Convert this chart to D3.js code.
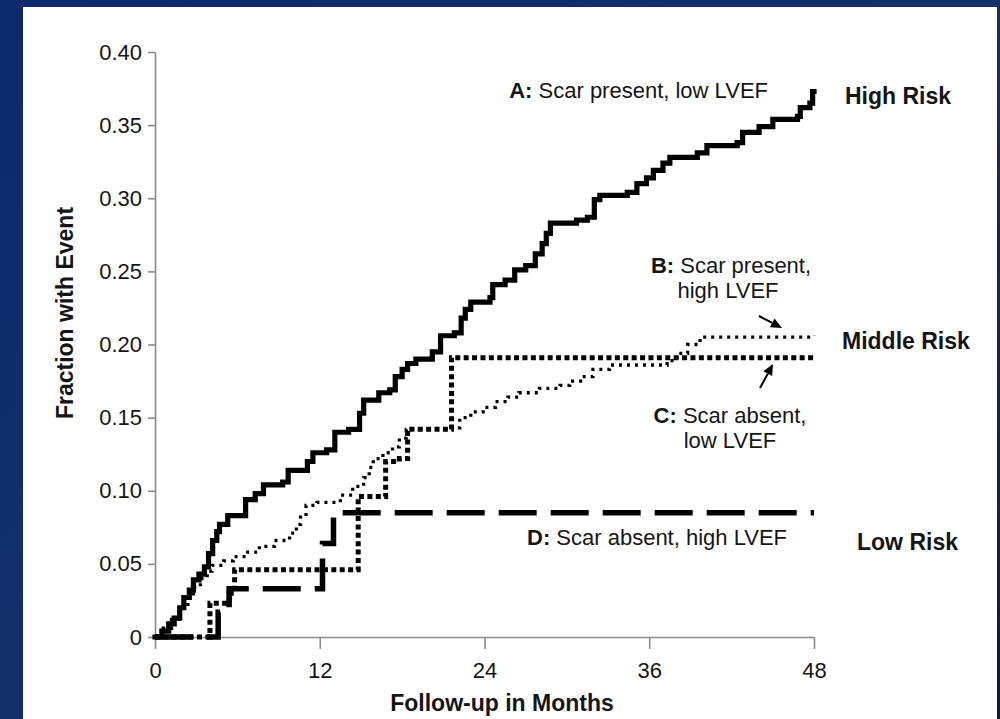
<!DOCTYPE html>
<html>
<head>
<meta charset="utf-8">
<script src="https://cdn.jsdelivr.net/npm/d3@7"></script>
<style>
  html, body { margin: 0; padding: 0; background: #0c2563; }
  svg { display: block; }
  text { font-family: "Liberation Sans", Arial, sans-serif; fill: #151515; }
</style>
</head>
<body>
<svg id="chart" width="1000" height="719"></svg>
<script>
// Cumulative event fraction by follow-up month (step changes: [month, fraction])
const seriesA = [[0,0],[0.5,0.004],[1,0.009],[1.4,0.013],[1.8,0.02],[2.1,0.027],[2.5,0.032],[2.8,0.039],[3.2,0.043],[3.6,0.048],[3.9,0.057],[4.2,0.066],[4.5,0.072],[4.7,0.077],[5.3,0.083],[6.6,0.094],[7.3,0.098],[7.9,0.104],[9.3,0.106],[9.7,0.114],[11.1,0.12],[11.5,0.126],[12.5,0.128],[13.1,0.14],[14.1,0.142],[14.9,0.153],[15.2,0.162],[16.3,0.167],[17.1,0.169],[17.5,0.178],[18.0,0.183],[18.4,0.187],[19.0,0.19],[20.2,0.195],[20.8,0.206],[21.8,0.208],[22.3,0.218],[22.6,0.224],[23.0,0.229],[24.4,0.232],[24.6,0.241],[25.5,0.244],[26.2,0.251],[27.0,0.254],[27.7,0.262],[28.2,0.269],[28.5,0.276],[28.8,0.283],[30.7,0.285],[31.5,0.287],[32.0,0.299],[32.4,0.302],[34.4,0.304],[35.1,0.31],[35.8,0.314],[36.3,0.319],[37.0,0.324],[37.5,0.328],[39.5,0.331],[40.2,0.336],[42.4,0.338],[42.8,0.345],[44.0,0.349],[45.0,0.354],[46.8,0.356],[47.0,0.362],[47.7,0.365],[47.9,0.373],[48,0.373]];
const seriesB = [[0,0],[0.6,0.006],[1.2,0.012],[1.8,0.02],[2.4,0.027],[2.8,0.034],[3.3,0.04],[3.8,0.045],[4.15,0.049],[5.0,0.052],[5.7,0.055],[6.6,0.058],[7.6,0.062],[8.7,0.066],[9.8,0.071],[10.3,0.077],[10.6,0.082],[11.0,0.09],[11.8,0.092],[13.5,0.097],[14.4,0.103],[15.2,0.109],[15.6,0.116],[15.9,0.122],[16.6,0.126],[17.3,0.13],[17.8,0.136],[18.3,0.142],[21.6,0.143],[22.2,0.15],[23.0,0.154],[23.9,0.157],[24.8,0.161],[25.7,0.164],[26.5,0.167],[28,0.17],[29.5,0.172],[30.2,0.175],[31,0.178],[31.9,0.183],[33.1,0.186],[37.3,0.189],[38,0.194],[38.8,0.2],[39.7,0.205],[48,0.206]];
const seriesC = [[0,0],[4.0,0.023],[5.4,0.03],[5.8,0.046],[14.8,0.096],[16.8,0.12],[17.8,0.122],[18.4,0.142],[21.6,0.191],[48,0.191]];
const seriesD = [[0,0],[4.6,0.017],[5.4,0.033],[12.2,0.064],[13.0,0.085],[48,0.085]];

const xTicks = [0, 12, 24, 36, 48];
const yTicks = [0, 0.05, 0.10, 0.15, 0.20, 0.25, 0.30, 0.35, 0.40];
const yTickLabels = ["0", "0.05", "0.10", "0.15", "0.20", "0.25", "0.30", "0.35", "0.40"];

const svg = d3.select("#chart");

// Backdrop: navy gradient with a white card
const defs = svg.append("defs");
const grad = defs.append("linearGradient").attr("id", "bg")
  .attr("x1", "0%").attr("y1", "0%").attr("x2", "100%").attr("y2", "100%");
grad.append("stop").attr("offset", "0%").attr("stop-color", "#0b2a6c");
grad.append("stop").attr("offset", "50%").attr("stop-color", "#13306a");
grad.append("stop").attr("offset", "100%").attr("stop-color", "#0c1a4c");
svg.append("rect").attr("width", 1000).attr("height", 719).attr("fill", "url(#bg)");
svg.append("rect").attr("x", 23).attr("y", 7).attr("width", 974).attr("height", 712).attr("fill", "#ffffff");

const x = d3.scaleLinear().domain([0, 48]).range([155, 814]);
const y = d3.scaleLinear().domain([0, 0.4]).range([637, 52]);

// Axes
const yAxis = svg.append("g").attr("transform", "translate(155,0)")
  .call(d3.axisLeft(y).tickValues(yTicks).tickFormat((d, i) => yTickLabels[i]).tickSize(7).tickSizeOuter(0).tickPadding(6));
const xAxis = svg.append("g").attr("transform", "translate(0,637)")
  .call(d3.axisBottom(x).tickValues(xTicks).tickSize(12).tickSizeOuter(0).tickPadding(13));
[yAxis, xAxis].forEach(g => {
  g.select(".domain").attr("stroke", "#8a8a8a").attr("stroke-width", 1.6);
  g.selectAll(".tick line").attr("stroke", "#8a8a8a").attr("stroke-width", 1.6);
  g.selectAll(".tick text").attr("font-size", 22).attr("fill", "#151515")
    .attr("font-family", "Liberation Sans, Arial, sans-serif");
});

// Axis titles
svg.append("text").attr("x", 502).attr("y", 711).attr("text-anchor", "middle")
  .attr("font-size", 23).attr("font-weight", "bold").text("Follow-up in Months");
svg.append("text").attr("transform", "translate(73,313) rotate(-90)").attr("text-anchor", "middle")
  .attr("font-size", 23).attr("font-weight", "bold").text("Fraction with Event");

// Step curves
const line = d3.line().x(d => x(d[0])).y(d => y(d[1])).curve(d3.curveStepAfter);
const curves = [
  { data: seriesD, width: 5.5, dash: "38,14", cap: "butt" },
  { data: seriesC, width: 5, dash: "5,3.4", cap: "butt" },
  { data: seriesB, width: 3.3, dash: "3,5", cap: "butt" },
  { data: seriesA, width: 5.2, dash: null, cap: "square" }
];
svg.append("g").selectAll("path").data(curves).join("path")
  .attr("d", d => line(d.data))
  .attr("fill", "none")
  .attr("stroke", "#000")
  .attr("stroke-width", d => d.width)
  .attr("stroke-dasharray", d => d.dash)
  .attr("stroke-linecap", d => d.cap)
  .attr("stroke-linejoin", "miter");

// Curve labels
function label(xp, yp, bold, rest, anchor) {
  const t = svg.append("text").attr("x", xp).attr("y", yp).attr("font-size", 22)
    .attr("text-anchor", anchor || "start");
  if (bold) t.append("tspan").attr("font-weight", "bold").text(bold);
  t.append("tspan").text(rest);
}
label(768, 98, "A:", " Scar present, low LVEF", "end");
label(731, 273, "B:", " Scar present,", "middle");
label(728, 298, null, "high LVEF", "middle");
label(730, 423, "C:", " Scar absent,", "middle");
label(730, 448, null, "low LVEF", "middle");
label(527, 545, "D:", " Scar absent, high LVEF", "start");

// Risk group labels
const riskLabels = [
  { text: "High Risk", x: 845, y: 104 },
  { text: "Middle Risk", x: 842, y: 349 },
  { text: "Low Risk", x: 857, y: 550 }
];
svg.append("g").selectAll("text").data(riskLabels).join("text")
  .attr("x", d => d.x).attr("y", d => d.y)
  .attr("font-size", 23).attr("font-weight", "bold").text(d => d.text);

// Pointer arrows for B and C
function arrow(x1, y1, x2, y2) {
  const ang = Math.atan2(y2 - y1, x2 - x1);
  const len = 11, half = 5;
  const bx = x2 - len * Math.cos(ang), by = y2 - len * Math.sin(ang);
  svg.append("line").attr("x1", x1).attr("y1", y1).attr("x2", bx).attr("y2", by)
    .attr("stroke", "#000").attr("stroke-width", 2);
  const p = [[x2, y2],
    [bx + half * Math.sin(ang), by - half * Math.cos(ang)],
    [bx - half * Math.sin(ang), by + half * Math.cos(ang)]];
  svg.append("path").attr("d", "M" + p.map(q => q.join(",")).join("L") + "Z").attr("fill", "#000");
}
arrow(759, 316, 782, 328);
arrow(760, 388, 773, 364);
</script>
</body>
</html>
